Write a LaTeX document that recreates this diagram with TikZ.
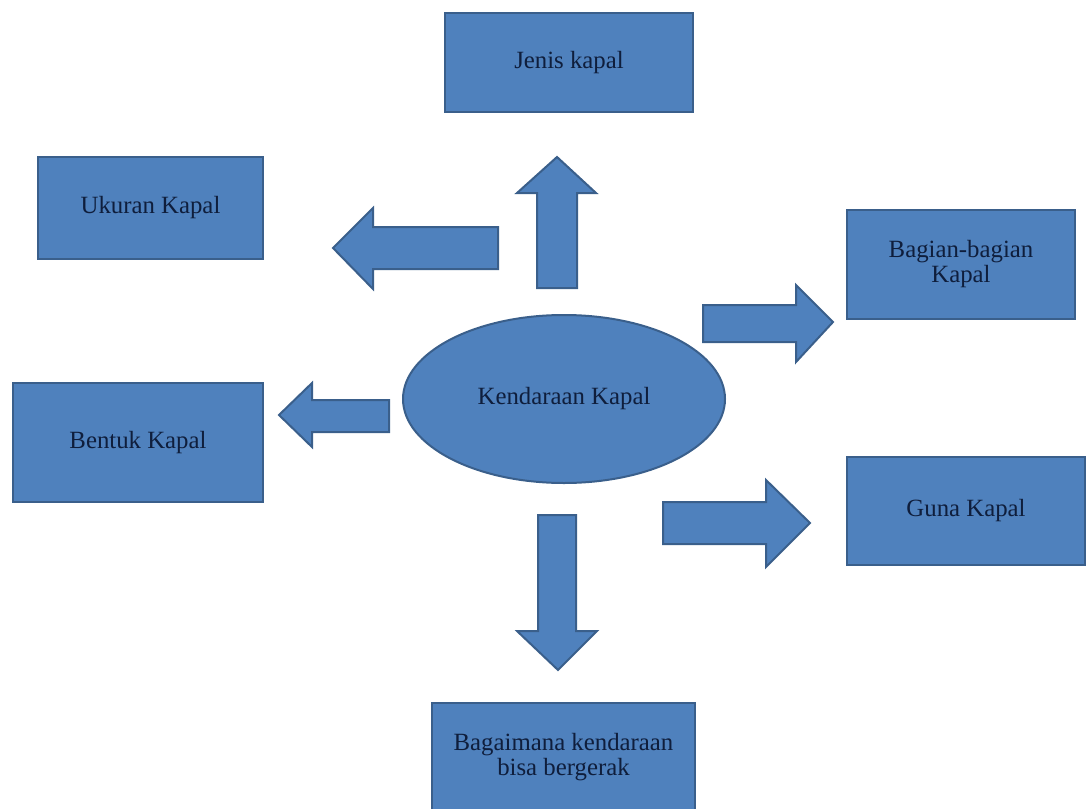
\documentclass[tikz,border=0pt]{standalone}
\usepackage{fontspec}
\setmainfont{Liberation Serif}
\usepackage{tikz}
\usetikzlibrary{shapes.geometric}
\definecolor{kotakbiru}{HTML}{4F81BD}
\definecolor{garisbiru}{HTML}{3A5F8B}
\definecolor{teksbiru}{HTML}{0F1E3C}

\begin{document}
\begin{tikzpicture}[x=0.5pt, y=-0.5pt, every node/.style={font=\fontsize{12.4}{12.6}\selectfont, text=teksbiru}]
			\tikzset{kotak/.style={draw=garisbiru, fill=kotakbiru, line width=1pt, align=center, inner sep=0pt},
				panah/.style={draw=garisbiru, fill=kotakbiru, line width=1pt, line join=miter}}
			\useasboundingbox (0,0) rectangle (1090,808);
			\clip (0,0) rectangle (1090,808);

			\node[kotak, minimum width=124pt, minimum height=49.5pt] (jenis) at (569,62.5) {Jenis kapal};
			\node[kotak, minimum width=112.5pt, minimum height=51pt] (ukuran) at (150.5,208) {Ukuran Kapal};
			\node[kotak, minimum width=125pt, minimum height=59.5pt] (bentuk) at (138,442.5) {Bentuk Kapal};
			\node[kotak, minimum width=114pt, minimum height=54.5pt] (bagian) at (961,264) {Bagian-bagian\\Kapal};
			\node[kotak, minimum width=119pt, minimum height=54pt] (guna) at (966,511) {Guna Kapal};
			\node[kotak, minimum width=131.5pt, minimum height=54pt] (gerak) at (563.5,757) {Bagaimana kendaraan\\bisa bergerak};
			\node[kotak, ellipse, minimum width=161pt, minimum height=84pt] (kendaraan) at (564,399) {Kendaraan Kapal};

			\draw[panah] (537,288) -- (537,193) -- (517,193) -- (557,157) -- (596,193) -- (577,193) -- (577,288) -- cycle;
			\draw[panah] (498,227) -- (373,227) -- (373,208) -- (333,248) -- (373,289) -- (373,269) -- (498,269) -- cycle;
			\draw[panah] (389,400) -- (312,400) -- (312,383) -- (279,415) -- (312,447) -- (312,432) -- (389,432) -- cycle;
			\draw[panah] (703,305) -- (796,305) -- (796,285) -- (833,322) -- (796,362) -- (796,342) -- (703,342) -- cycle;
			\draw[panah] (663,502) -- (766,502) -- (766,480) -- (810,523) -- (766,567) -- (766,544) -- (663,544) -- cycle;
			\draw[panah] (538,515) -- (576,515) -- (576,631) -- (597,631) -- (558,670) -- (517,631) -- (538,631) -- cycle;
		\end{tikzpicture}
\end{document}
